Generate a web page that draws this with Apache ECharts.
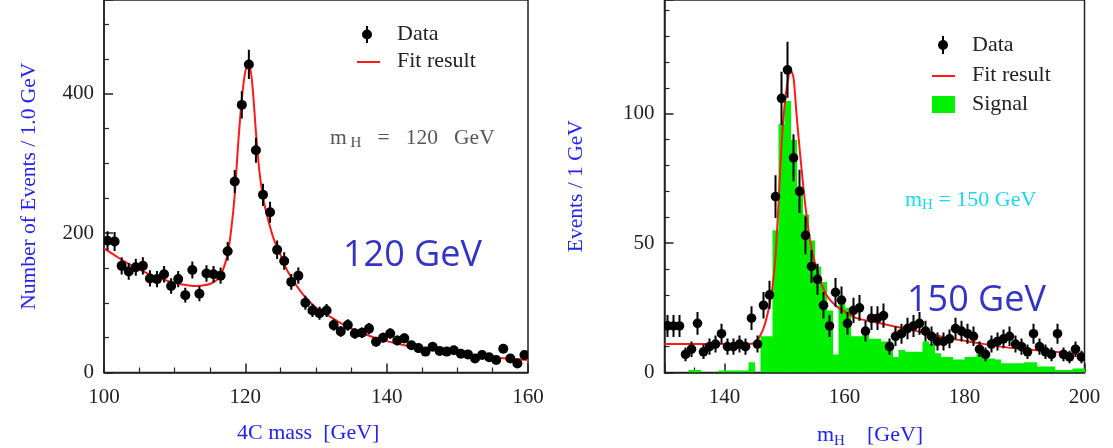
<!DOCTYPE html>
<html><head><meta charset="utf-8">
<script src="https://cdn.jsdelivr.net/npm/echarts@6/dist/echarts.min.js"></script>
<style>html,body{margin:0;padding:0;background:#fff}#c{width:1113px;height:448px}</style>
</head><body><div id="c"></div>
<script>
// ---------- LEFT PANEL (m_H = 120 GeV) ----------
const leftBinCentres = [100.5,101.5,102.5,103.5,104.5,105.5,106.5,107.5,108.5,109.5,110.5,111.5,112.5,113.5,114.5,115.5,116.5,117.5,118.5,119.5,120.5,121.5,122.5,123.5,124.5,125.5,126.5,127.5,128.5,129.5,130.5,131.5,132.5,133.5,134.5,135.5,136.5,137.5,138.5,139.5,140.5,141.5,142.5,143.5,144.5,145.5,146.5,147.5,148.5,149.5,150.5,151.5,152.5,153.5,154.5,155.5,156.5,157.5,158.5,159.5];
const leftCounts = [189,188,153,145,151,153,135,134,141,124,134,111,147,113,142,141,139,174,274,384,442,319,255,230,176,160,130,139,100,89,85,89,68,59,68,56,57,63,44,50,56,46,49,39,35,30,37,31,30,32,27,26,20,25,22,18,34,20,13,25];
const leftFitX = [100,102,104,106,108,110,112,113,114,115,116,116.5,117,117.5,118,118.5,119,119.5,120,120.5,121,121.5,122,122.5,123,124,125,126,128,130,132,134,136,138,140,143,146,150,155,160];
const leftFitY = [178,165,153,143,135,128,125,124,125,127,133,140,152,170,205,255,330,392,432,445,412,345,288,252,228,192,168,145,114,93,80,68,59,51,45,38,33,28,22,18];
const leftXTicks = [100,120,140,160];
const leftYTicks = [0,200,400];

// ---------- RIGHT PANEL (m_H = 150 GeV) ----------
const rightBinCentres = [130.5,131.5,132.5,133.5,134.5,135.5,136.5,137.5,138.5,139.5,140.5,141.5,142.5,143.5,144.5,145.5,146.5,147.5,148.5,149.5,150.5,151.5,152.5,153.5,154.5,155.5,156.5,157.5,158.5,159.5,160.5,161.5,162.5,163.5,164.5,165.5,166.5,167.5,168.5,169.5,170.5,171.5,172.5,173.5,174.5,175.5,176.5,177.5,178.5,179.5,180.5,181.5,182.5,183.5,184.5,185.5,186.5,187.5,188.5,189.5,190.5,191.5,192.5,193.5,194.5,195.5,196.5,197.5,198.5,199.5];
const rightCounts = [18,18,18,7,9,19,8,10,11,15,10,10,11,10,21,11,26,30,68,106,117,83,70,53,41,36,26,18,31,28,19,24,25,16,21,21,22,10,14,15,17,18,19,16,14,12,12,13,17,16,15,14,9,7,11,12,13,14,11,10,8,15,10,8,7,15,7,6,9,6];
const rightSignal = [0,0,0,0,1,1,0,0,0,0.8,0.8,0.8,0.8,0.8,4,0,14,14,55,96,105,90,72,61,51,41,35,24,7,27,25,14,14,16,13,13,12,12,6,8.7,8,8,8,12,11,7.4,6,6,5,5,6,6,7.4,5.4,5.4,5,3.6,3.6,3.6,3.6,4,4,2.3,2.3,2.3,1,1,1,1.5,1.5];
const rightFitX = [130,140,144,145,145.5,146,146.5,147,147.5,148,148.5,149,149.5,150,150.5,151,151.5,152,152.5,153,153.5,154,154.5,155,155.5,156,157,158,159,160,162,165,168,172,175,178,182,186,190,195,200];
const rightFitY = [11,11,11,11.5,12.5,14.5,17,21,26,33,45,65,88,103,112,117,114,100,87,75,64,55,48,43,39,35,30,27,25,23.5,21,19.5,18,16,14.5,13,11.5,10,9,8,6.8];
const rightXTicks = [140,160,180,200];
const rightYTicks = [0,50,100];

const SERIF = '"Liberation Serif","DejaVu Serif",serif';
const INK = '#222';
const BLUE = '#2323ee';

function pts(xs, ys){ return xs.map((x,i)=>[x, ys[i]]); }

function pointRender(r){
  return function(params, api){
    const x = api.value(0), y = api.value(1);
    const e = Math.sqrt(y);
    const p = api.coord([x, y]);
    const t = api.coord([x, y + e]);
    const b = api.coord([x, Math.max(y - e, 0)]);
    return {type:'group', children:[
      {type:'line', shape:{x1:p[0], y1:t[1], x2:p[0], y2:b[1]}, style:{stroke:'#000', lineWidth:2}},
      {type:'circle', shape:{cx:p[0], cy:p[1], r:r}, style:{fill:'#000'}}
    ]};
  };
}
function histRender(params, api){
  const x = api.value(0), y = api.value(1);
  const a = api.coord([x - 0.5, 0]);
  const b = api.coord([x + 0.5, y]);
  return {type:'rect', shape:{x:a[0], y:b[1], width:b[0]-a[0]+0.6, height:a[1]-b[1]}, style:{fill:'#00f000'}};
}

function xAxisCfg(gi, min, max, interval, minorSplit, shown){
  return {
    type:'value', gridIndex:gi, min:min, max:max, interval:interval,
    axisLine:{show:true, lineStyle:{color:INK, width:1.5}},
    axisTick:{show:true, inside:true, length:9, lineStyle:{color:INK, width:1.5}},
    minorTick:{show:true, splitNumber:minorSplit, length:5, lineStyle:{color:INK, width:1.2}},
    splitLine:{show:false}, minorSplitLine:{show:false},
    axisLabel:{show:true, margin:14, color:INK, fontFamily:SERIF, fontSize:21,
      formatter:function(v){ return shown.indexOf(v) >= 0 ? String(v) : ''; }}
  };
}
function yAxisCfg(gi, min, max, interval, minorSplit, shown, name, gap){
  return {
    type:'value', gridIndex:gi, min:min, max:max, interval:interval,
    axisLine:{show:true, lineStyle:{color:INK, width:1.5}},
    axisTick:{show:true, inside:true, length:9, lineStyle:{color:INK, width:1.5}},
    minorTick:{show:true, splitNumber:minorSplit, length:5, lineStyle:{color:INK, width:1.2}},
    splitLine:{show:false}, minorSplitLine:{show:false},
    axisLabel:{show:true, margin:10, color:INK, fontFamily:SERIF, fontSize:21,
      formatter:function(v){ return shown.indexOf(v) >= 0 ? String(v) : ''; }},
    name:name, nameLocation:'middle', nameGap:gap, nameRotate:90,
    nameTextStyle:{color:BLUE, fontFamily:SERIF, fontSize:21.5}
  };
}

const chart = echarts.init(document.getElementById('c'), null, {renderer:'canvas'});
chart.setOption({
  animation:false,
  backgroundColor:'#fff',
  grid:[
    {left:104, top:-3, width:424, height:375.5, show:true, borderColor:INK, borderWidth:1.5, backgroundColor:'transparent'},
    {left:664.5, top:-3, width:420, height:375.5, show:true, borderColor:INK, borderWidth:1.5, backgroundColor:'transparent'}
  ],
  xAxis:[
    xAxisCfg(0, 100, 160, 20, 4, leftXTicks),
    xAxisCfg(1, 130, 200, 10, 2, rightXTicks)
  ],
  yAxis:[
    yAxisCfg(0, 0, 534.5, 200, 4, leftYTicks, 'Number of Events / 1.0 GeV', 64),
    yAxisCfg(1, 0, 144, 50, 5, rightYTicks, 'Events / 1 GeV', 77)
  ],
  series:[
    {type:'line', xAxisIndex:0, yAxisIndex:0, data:pts(leftFitX, leftFitY), showSymbol:false, smooth:0.25,
      lineStyle:{color:'#ff1a1a', width:2}, z:3},
    {type:'custom', xAxisIndex:0, yAxisIndex:0, data:pts(leftBinCentres, leftCounts), renderItem:pointRender(5), clip:true, z:4},
    {type:'custom', xAxisIndex:1, yAxisIndex:1, data:pts(rightBinCentres, rightSignal), renderItem:histRender, clip:true, z:2},
    {type:'line', xAxisIndex:1, yAxisIndex:1, data:pts(rightFitX, rightFitY), showSymbol:false, smooth:0.25,
      lineStyle:{color:'#ff1a1a', width:2}, z:3},
    {type:'custom', xAxisIndex:1, yAxisIndex:1, data:pts(rightBinCentres, rightCounts), renderItem:pointRender(4.8), clip:true, z:4}
  ],
  graphic:[
    // axis titles (horizontal)
    {type:'text', left:237, top:422, style:{text:'4C mass  [GeV]', font:'22px '+SERIF, fill:BLUE}},
    {type:'text', left:817, top:424, style:{rich:{a:{font:'22px '+SERIF, fill:BLUE}, b:{font:'15px '+SERIF, fill:BLUE, padding:[12,0,0,0]}}, text:'{a|m}{b|H}{a|    [GeV]}'}},
    // left legend
    {type:'line', shape:{x1:367, y1:26, x2:367, y2:43}, style:{stroke:'#000', lineWidth:2}},
    {type:'circle', shape:{cx:367, cy:34.5, r:5}, style:{fill:'#000'}},
    {type:'text', left:397, top:23, style:{text:'Data', font:'22px '+SERIF, fill:INK}},
    {type:'line', shape:{x1:357, y1:62, x2:380, y2:62}, style:{stroke:'#ff1a1a', lineWidth:2}},
    {type:'text', left:397, top:50, style:{text:'Fit result', font:'22px '+SERIF, fill:INK}},
    {type:'text', left:330, top:127, style:{rich:{a:{font:'21.5px '+SERIF, fill:'#555'}, b:{font:'15px '+SERIF, fill:'#555', padding:[11,0,0,0]}}, text:'{a|m}{b| H}{a|   =   120   GeV}'}},
    {type:'text', left:343, top:238, style:{text:'120 GeV', font:'36px "Open Sans",sans-serif', fill:'#3434c4'}},
    // right legend
    {type:'line', shape:{x1:943, y1:36, x2:943, y2:54}, style:{stroke:'#000', lineWidth:2}},
    {type:'circle', shape:{cx:943, cy:45, r:5}, style:{fill:'#000'}},
    {type:'text', left:972, top:34, style:{text:'Data', font:'22px '+SERIF, fill:INK}},
    {type:'line', shape:{x1:932, y1:76, x2:955, y2:76}, style:{stroke:'#ff1a1a', lineWidth:2}},
    {type:'text', left:972, top:64, style:{text:'Fit result', font:'22px '+SERIF, fill:INK}},
    {type:'rect', shape:{x:932, y:96, width:23, height:17}, style:{fill:'#00f000'}},
    {type:'text', left:972, top:93, style:{text:'Signal', font:'22px '+SERIF, fill:INK}},
    {type:'text', left:905, top:189, style:{rich:{a:{font:'22px '+SERIF, fill:'#1ad8f0'}, b:{font:'15px '+SERIF, fill:'#1ad8f0', padding:[11,0,0,0]}}, text:'{a|m}{b|H}{a| = 150 GeV}'}},
    {type:'text', left:907, top:283, style:{text:'150 GeV', font:'36px "Open Sans",sans-serif', fill:'#3434c4'}}
  ]
});
</script></body></html>
